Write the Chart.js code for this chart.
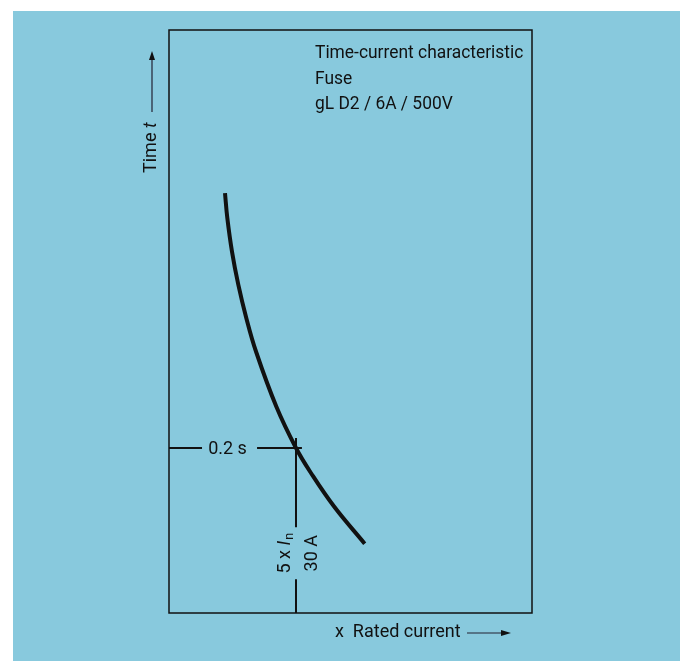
<!DOCTYPE html>
<html>
<head>
<meta charset="utf-8">
<script src="https://cdn.jsdelivr.net/npm/chart.js@4/dist/chart.umd.min.js"></script>
<style>
  html, body { margin: 0; padding: 0; background: #fff; }
  #chart { display: block; }
</style>
</head>
<body>
<canvas id="chart" width="680" height="661"></canvas>
<script>
// fuse gL D2 / 6A, time-current curve
const currentA = [13.23, 13.77, 14.88, 16.37, 18.24, 20.55, 25.37, 30.0, 33.5, 39.0, 46.23];
const timeS    = [0.509, 0.479, 0.438, 0.398, 0.358, 0.317, 0.250, 0.200, 0.170, 0.129, 0.084];

// the marked operating point: 5 x In = 30 A trips in 0.2 s
const ratedCurrentA = 30;
const tripTimeS = 0.2;

const titleLines = ['Time-current characteristic', 'Fuse', 'gL D2 / 6A / 500V'];

// axis ranges (schematic, linear)
const xMax = 85.75;
const yMax = 0.7067;

const FONT = 'Roboto, "Open Sans", sans-serif';
const INK = '#111';

const curve = currentA.map((a, i) => ({ x: a, y: timeS[i] }));

// guide lines through the operating point, with gaps left for the labels
const hGuide = [
  { x: 0, y: tripTimeS }, { x: 7.8, y: tripTimeS }, { x: null, y: null },
  { x: 20.8, y: tripTimeS }, { x: ratedCurrentA + 1.4, y: tripTimeS }
];
const vGuide = [
  { x: ratedCurrentA, y: 0.212 }, { x: ratedCurrentA, y: 0.104 }, { x: null, y: null },
  { x: ratedCurrentA, y: 0.041 }, { x: ratedCurrentA, y: 0 }
];

function arrowHead(ctx, x, y, dir) {
  // dir: 'up' or 'right'
  ctx.beginPath();
  if (dir === 'up') {
    ctx.moveTo(x, y);
    ctx.lineTo(x - 3, y + 9);
    ctx.lineTo(x + 3, y + 9);
  } else {
    ctx.moveTo(x, y);
    ctx.lineTo(x - 10, y - 3);
    ctx.lineTo(x - 10, y + 3);
  }
  ctx.closePath();
  ctx.fill();
}

const decor = {
  id: 'decor',
  beforeDraw(chart) {
    const ctx = chart.ctx;
    ctx.save();
    ctx.fillStyle = '#fff';
    ctx.fillRect(0, 0, chart.width, chart.height);
    ctx.fillStyle = '#88c9dd';
    ctx.fillRect(13, 11, chart.width - 13, chart.height - 11);
    ctx.restore();
  },
  afterDraw(chart) {
    const ctx = chart.ctx;
    const a = chart.chartArea;
    const xs = chart.scales.x, ys = chart.scales.y;
    ctx.save();

    // frame
    ctx.strokeStyle = INK;
    ctx.lineWidth = 1.5;
    ctx.strokeRect(a.left, a.top, a.right - a.left, a.bottom - a.top);

    ctx.fillStyle = INK;
    ctx.textBaseline = 'alphabetic';

    // title block, slightly condensed like the original typeface
    ctx.font = '18.5px ' + FONT;
    titleLines.forEach((t, i) => {
      ctx.save();
      ctx.translate(a.left + 146, a.top + 28 + i * 25.5);
      ctx.scale(0.94, 1);
      ctx.fillText(t, 0, 0);
      ctx.restore();
    });

    ctx.font = '18px ' + FONT;

    // 0.2 s label in the gap of the horizontal guide
    const gx0 = xs.getPixelForValue(hGuide[1].x);
    const gx1 = xs.getPixelForValue(hGuide[3].x);
    const ty = ys.getPixelForValue(tripTimeS);
    ctx.textAlign = 'center';
    ctx.fillText(tripTimeS + ' s', (gx0 + gx1) / 2 - 2, ty + 5.5);
    ctx.textAlign = 'left';

    // rotated labels in the gap of the vertical guide
    const vx = xs.getPixelForValue(ratedCurrentA);
    const vy = (ys.getPixelForValue(vGuide[1].y) + ys.getPixelForValue(vGuide[3].y)) / 2;

    ctx.save();
    ctx.translate(vx - 6, vy);
    ctx.rotate(-Math.PI / 2);
    ctx.font = '18px ' + FONT;
    const p1 = '5 x ';
    const w1 = ctx.measureText(p1).width;
    ctx.font = 'italic 18px ' + FONT;
    const w2 = ctx.measureText('I').width;
    ctx.font = '12.5px ' + FONT;
    const w3 = ctx.measureText('n').width;
    let u = -(w1 + w2 + w3 + 1) / 2;
    ctx.font = '18px ' + FONT;
    ctx.fillText(p1, u, 0);
    ctx.font = 'italic 18px ' + FONT;
    ctx.fillText('I', u + w1, 0);
    ctx.font = '12.5px ' + FONT;
    ctx.fillText('n', u + w1 + w2 + 1, 3);
    ctx.restore();

    ctx.save();
    ctx.translate(vx + 21, vy);
    ctx.rotate(-Math.PI / 2);
    ctx.font = '18px ' + FONT;
    ctx.textAlign = 'center';
    ctx.fillText(ratedCurrentA + ' A', 0, 0);
    ctx.restore();

    // y axis title: Time t, with arrow
    ctx.save();
    ctx.translate(a.left - 13, a.top + 143);
    ctx.rotate(-Math.PI / 2);
    ctx.font = '18px ' + FONT;
    const wt = ctx.measureText('Time ').width;
    ctx.fillText('Time ', 0, 0);
    ctx.font = 'italic 18px ' + FONT;
    ctx.fillText('t', wt, 0);
    ctx.restore();

    ctx.strokeStyle = '#223';
    ctx.lineWidth = 1.2;
    ctx.beginPath();
    ctx.moveTo(a.left - 17, a.top + 82);
    ctx.lineTo(a.left - 17, a.top + 28);
    ctx.stroke();
    arrowHead(ctx, a.left - 17, a.top + 21, 'up');

    // x axis title: x  Rated current, with arrow
    ctx.font = '18px ' + FONT;
    ctx.fillText('x  Rated current', a.left + 166, a.bottom + 24);
    ctx.beginPath();
    ctx.moveTo(a.left + 298, a.bottom + 20);
    ctx.lineTo(a.left + 333, a.bottom + 20);
    ctx.stroke();
    arrowHead(ctx, a.left + 342, a.bottom + 20, 'right');

    ctx.restore();
  }
};

new Chart(document.getElementById('chart'), {
  type: 'scatter',
  data: {
    datasets: [
      {
        label: 'gL D2 6A',
        data: curve,
        showLine: true,
        borderColor: INK,
        borderWidth: 4,
        pointRadius: 0,
        tension: 0.4,
        borderCapStyle: 'butt'
      },
      {
        label: 'time guide',
        data: hGuide,
        showLine: true,
        spanGaps: false,
        borderColor: INK,
        borderWidth: 2,
        pointRadius: 0
      },
      {
        label: 'current guide',
        data: vGuide,
        showLine: true,
        spanGaps: false,
        borderColor: INK,
        borderWidth: 2,
        pointRadius: 0
      }
    ]
  },
  options: {
    responsive: false,
    animation: false,
    devicePixelRatio: 1,
    layout: { padding: { left: 169, right: 148, top: 30, bottom: 48 } },
    plugins: { legend: { display: false }, tooltip: { enabled: false } },
    scales: {
      x: { type: 'linear', min: 0, max: xMax, display: false },
      y: { type: 'linear', min: 0, max: yMax, display: false }
    }
  },
  plugins: [decor]
});
</script>
</body>
</html>
